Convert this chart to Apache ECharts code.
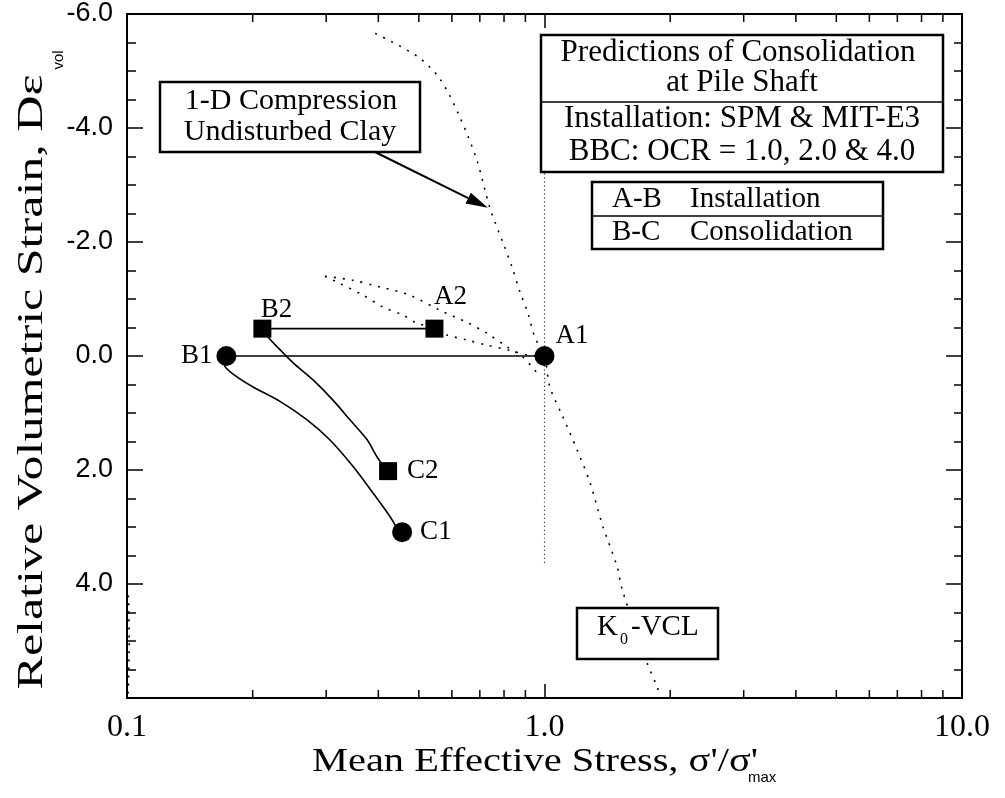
<!DOCTYPE html>
<html>
<head>
<meta charset="utf-8">
<script src="https://cdn.jsdelivr.net/npm/echarts@6/dist/echarts.min.js"></script>
<style>
  html, body { margin: 0; padding: 0; background: #fff; }
  #chart { width: 1005px; height: 798px; }
</style>
</head>
<body>
<div id="chart"></div>
<script>
// ---- values: mean effective stress (σ'/σ'max) and relative volumetric strain ----

// log-axis tick labels and the 2..9 minor tick values of each decade
const xTickValues = [0.1, 1, 10];
const xTickLabels = ['0.1', '1.0', '10.0'];
const xMinorTicks = [0.2, 0.3, 0.4, 0.5, 0.6, 0.7, 0.8, 0.9, 2, 3, 4, 5, 6, 7, 8, 9];

// path 1 (circles): A1 -> B1 installation, B1 -> C1 consolidation
const path1Names = ['A1', 'B1', 'C1'];
const path1Stress = [1.0, 0.173, 0.456];
const path1Strain = [0.0, 0.0, 3.09];

// path 2 (squares): A2 -> B2 installation, B2 -> C2 consolidation
const path2Names = ['A2', 'B2', 'C2'];
const path2Stress = [0.545, 0.211, 0.422];
const path2Strain = [-0.48, -0.48, 2.02];

// intermediate points of the consolidation curves (between B and C)
const consol1Stress = [0.171, 0.182, 0.200, 0.233, 0.270, 0.306, 0.348, 0.388, 0.426, 0.446];
const consol1Strain = [0.15, 0.35, 0.54, 0.80, 1.12, 1.47, 1.94, 2.40, 2.81, 3.04];
const consol2Stress = [0.218, 0.229, 0.250, 0.279, 0.311, 0.342, 0.376, 0.397, 0.410];
const consol2Strain = [-0.33, -0.16, 0.12, 0.42, 0.77, 1.12, 1.47, 1.77, 1.91];

// 1-D compression of undisturbed clay / K0 virgin compression line
const k0Stress = [0.393, 0.495, 0.562, 0.628, 0.689, 0.740, 0.796, 0.836, 0.874, 0.913, 0.948, 1.0,
                  1.03, 1.107, 1.196, 1.285, 1.380, 1.492, 1.534, 1.758, 1.858, 1.89];
const k0Strain = [-5.66, -5.26, -4.86, -4.18, -3.43, -2.60, -1.98, -1.56, -1.12, -0.75, -0.33, 0.0,
                  0.54, 1.07, 1.64, 2.22, 2.99, 3.69, 4.09, 5.37, 5.79, 5.96];

// unload / reload curves meeting at A1
const swellUpperStress = [0.298, 0.347, 0.404, 0.475, 0.562, 0.652, 0.728, 0.813, 0.888, 0.96];
const swellUpperStrain = [-1.40, -1.33, -1.21, -1.07, -0.80, -0.59, -0.40, -0.16, 0.02, 0.30];
const swellLowerStress = [0.298, 0.320, 0.367, 0.410, 0.458, 0.490, 0.545, 0.584, 0.652, 0.728, 0.826, 0.908, 1.0];
const swellLowerStrain = [-1.40, -1.29, -1.07, -0.86, -0.72, -0.59, -0.48, -0.37, -0.28, -0.19, -0.10, -0.02, 0.0];

// reference line at σ'/σ'max = 1 and the curve running along the left edge
const refStress = [1.0, 1.0];
const refStrain = [-3.2, 3.65];
const edgeStress = [0.1008, 0.1012, 0.1006];
const edgeStrain = [4.2, 5.0, 5.95];

// ---- drawing ----
const SERIF = '"Liberation Serif", "Times New Roman", serif';
const SANS = '"Liberation Sans", Arial, sans-serif';
const zip = (xs, ys) => xs.map((x, i) => [x, ys[i]]);

function xTickLabel(v) {
  const k = Math.round(Math.log10(v));
  const i = xTickValues.findIndex(t => Math.round(Math.log10(t)) === k);
  return i >= 0 ? xTickLabels[i] : '';
}

// where each point label sits around its marker
const labelPlacement = {
  A1: { position: 'right', distance: 1, offset: [0, -20] },
  B1: { position: 'left', distance: 4, offset: [0, 0] },
  C1: { position: 'right', distance: 8, offset: [0, 0] },
  A2: { position: 'top', distance: 9, offset: [16, 0] },
  B2: { position: 'top', distance: 0, offset: [14, 4] },
  C2: { position: 'right', distance: 10, offset: [0, 0] }
};

function markerSeries(name, names, xs, ys, symbol, size) {
  return {
    type: 'scatter', name, symbol, symbolSize: size, z: 6,
    itemStyle: { color: '#000', opacity: 1 },
    data: names.map((n, i) => ({
      name: n, value: [xs[i], ys[i]],
      label: Object.assign({ show: true, formatter: '{b}', color: '#000', opacity: 1, fontFamily: SERIF, fontSize: 27 }, labelPlacement[n])
    }))
  };
}

function solidSeries(name, pts, smooth) {
  return {
    type: 'line', name, data: pts, symbol: 'none', smooth: smooth || false, z: 4,
    lineStyle: { color: '#000', width: 1.6 }
  };
}

function dottedSeries(name, xs, ys, dash, width) {
  return {
    type: 'line', name, data: zip(xs, ys), symbol: 'none', smooth: 0.3, z: 3,
    lineStyle: { color: '#000', width: width || 1.6, type: dash || [2, 7] }
  };
}

const axisLineStyle = { color: '#000', width: 2 };
const tickStyle = { color: '#000', width: 1.5 };

const option = {
  animation: false,
  backgroundColor: '#fff',
  grid: { left: 127, right: 43, top: 14, bottom: 100, containLabel: false },
  xAxis: [
    {
      type: 'log', logBase: 10, min: 0.1, max: 10, position: 'bottom',
      axisLine: { show: true, onZero: false, lineStyle: axisLineStyle },
      axisTick: { show: true, inside: true, length: 14, lineStyle: tickStyle },
      axisLabel: { show: true, margin: 14, color: '#000', fontFamily: SERIF, fontSize: 32, formatter: xTickLabel },
      splitLine: { show: false }
    },
    {
      type: 'log', logBase: 10, min: 0.1, max: 10, position: 'top',
      axisLine: { show: true, onZero: false, lineStyle: axisLineStyle },
      axisTick: { show: true, inside: true, length: 14, lineStyle: tickStyle },
      axisLabel: { show: false },
      splitLine: { show: false }
    }
  ],
  yAxis: [
    {
      type: 'value', min: -6, max: 6, interval: 2, inverse: true, position: 'left',
      axisLine: { show: true, onZero: false, lineStyle: axisLineStyle },
      axisTick: { show: true, inside: true, length: 16, lineStyle: tickStyle },
      minorTick: { show: true, splitNumber: 4, length: 9, lineStyle: tickStyle },
      axisLabel: {
        show: true, margin: 14, color: '#000', fontFamily: SANS, fontSize: 27,
        formatter: v => (v >= 6 ? '' : v.toFixed(1))
      },
      splitLine: { show: false }
    },
    {
      type: 'value', min: -6, max: 6, interval: 2, inverse: true, position: 'right',
      axisLine: { show: true, onZero: false, lineStyle: axisLineStyle },
      axisTick: { show: true, inside: true, length: 16, lineStyle: tickStyle },
      minorTick: { show: true, splitNumber: 4, length: 8, lineStyle: tickStyle },
      axisLabel: { show: false },
      splitLine: { show: false }
    }
  ],
  series: [
    // log minor ticks on the bottom and top frame
    {
      type: 'custom', name: 'minor ticks', xAxisIndex: 0, yAxisIndex: 0, silent: true, clip: false, z: 5,
      data: xMinorTicks.map(v => [v, 0]),
      encode: { x: 0, y: 1 },
      renderItem(params, api) {
        const v = api.value(0);
        const b = api.coord([v, 6]);
        const t = api.coord([v, -6]);
        return {
          type: 'group',
          children: [
            { type: 'line', shape: { x1: b[0], y1: b[1], x2: b[0], y2: b[1] - 8 }, style: { stroke: '#000', lineWidth: 1.5 } },
            { type: 'line', shape: { x1: t[0], y1: t[1], x2: t[0], y2: t[1] + 8 }, style: { stroke: '#000', lineWidth: 1.5 } }
          ]
        };
      }
    },
    dottedSeries('K0-VCL', k0Stress, k0Strain),
    dottedSeries('unload upper', swellUpperStress, swellUpperStrain),
    dottedSeries('unload lower', swellLowerStress, swellLowerStrain),
    dottedSeries('sigma = sigma max', refStress, refStrain, [1, 3], 1.2),
    dottedSeries('edge curve', edgeStress, edgeStrain, [2, 6]),
    solidSeries('A1-B1', zip(path1Stress.slice(0, 2), path1Strain.slice(0, 2))),
    solidSeries('A2-B2', zip(path2Stress.slice(0, 2), path2Strain.slice(0, 2))),
    solidSeries('B1-C1', zip([path1Stress[1], ...consol1Stress, path1Stress[2]],
                             [path1Strain[1], ...consol1Strain, path1Strain[2]]), 0.3),
    solidSeries('B2-C2', zip([path2Stress[1], ...consol2Stress, path2Stress[2]],
                             [path2Strain[1], ...consol2Strain, path2Strain[2]]), 0.3),
    markerSeries('path 1', path1Names, path1Stress, path1Strain, 'circle', 20),
    markerSeries('path 2', path2Names, path2Stress, path2Strain, 'rect', 18)
  ]
};

const chart = echarts.init(document.getElementById('chart'));
chart.setOption(option);

// ---- annotations: boxed notes, arrow and axis titles ----
const measureCtx = document.createElement('canvas').getContext('2d');
function textWidth(text, font) { measureCtx.font = font; return measureCtx.measureText(text).width; }

function txt(text, x, y, size, o) {
  o = o || {};
  const font = (o.weight || 'normal') + ' ' + size + 'px ' + (o.family || SERIF);
  const sx = o.width ? o.width / textWidth(text, font) : 1;
  return {
    type: 'text', x, y, z: 102, rotation: o.rotation || 0, scaleX: sx,
    style: { text, fill: '#000', font, align: o.align || 'center', verticalAlign: 'middle' }
  };
}
function box(x, y, w, h) {
  return { type: 'rect', z: 100, shape: { x, y, width: w, height: h }, style: { fill: '#fff', stroke: '#000', lineWidth: 2.5 } };
}
function rule(x1, y1, x2, y2, w) {
  return { type: 'line', z: 101, shape: { x1, y1, x2, y2 }, style: { stroke: '#000', lineWidth: w || 1.5 } };
}
function arrow(tail, tip) {
  const dx = tip[0] - tail[0], dy = tip[1] - tail[1];
  const len = Math.hypot(dx, dy), ux = dx / len, uy = dy / len;
  const hl = 22, hw = 6;
  const base = [tip[0] - ux * hl, tip[1] - uy * hl];
  return [
    { type: 'line', z: 101, shape: { x1: tail[0], y1: tail[1], x2: base[0], y2: base[1] }, style: { stroke: '#000', lineWidth: 2 } },
    { type: 'polygon', z: 101, shape: { points: [tip, [base[0] - uy * hw, base[1] + ux * hw], [base[0] + uy * hw, base[1] - ux * hw]] }, style: { fill: '#000' } }
  ];
}

const tip = chart.convertToPixel({ xAxisIndex: 0, yAxisIndex: 0 }, [k0Stress[5], k0Strain[5]]);

const graphics = [
  // 1-D compression note
  box(160, 82, 260, 70),
  txt('1-D Compression', 291, 101, 30),
  txt('Undisturbed Clay', 290, 132, 30),
  ...arrow([375, 152], [tip[0] - 2, tip[1]]),

  // title block
  box(541, 35, 402, 137),
  rule(541, 102, 943, 102, 1.5),
  txt('Predictions of Consolidation', 738, 53, 31),
  txt('at Pile Shaft', 742, 83, 31),
  txt('Installation: SPM & MIT-E3', 742, 119, 31),
  txt('BBC: OCR = 1.0, 2.0 & 4.0', 742, 152, 31),

  // path key
  box(592, 182, 291, 67),
  rule(592, 216, 883, 216, 1.5),
  txt('A-B', 612, 199, 29, { align: 'left' }),
  txt('Installation', 690, 199, 29, { align: 'left' }),
  txt('B-C', 612, 232, 29, { align: 'left' }),
  txt('Consolidation', 690, 232, 29, { align: 'left' }),

  // K0-VCL tag
  box(577, 608, 141, 51),
  txt('K', 597, 627, 29, { align: 'left' }),
  txt('0', 620, 640, 16, { align: 'left' }),
  txt('-VCL', 631, 627, 29, { align: 'left' }),

  // axis titles
  txt("Mean Effective Stress, σ'/σ'", 535, 762, 34, { width: 446 }),
  txt('max', 748, 778, 15, { align: 'left', family: SANS }),
  txt('Relative Volumetric Strain, Dε', 33, 382, 36, { rotation: Math.PI / 2, width: 615 }),
  txt('vol', 59, 60, 15, { rotation: Math.PI / 2, family: SANS })
];

chart.setOption({ graphic: graphics });
</script>
</body>
</html>
